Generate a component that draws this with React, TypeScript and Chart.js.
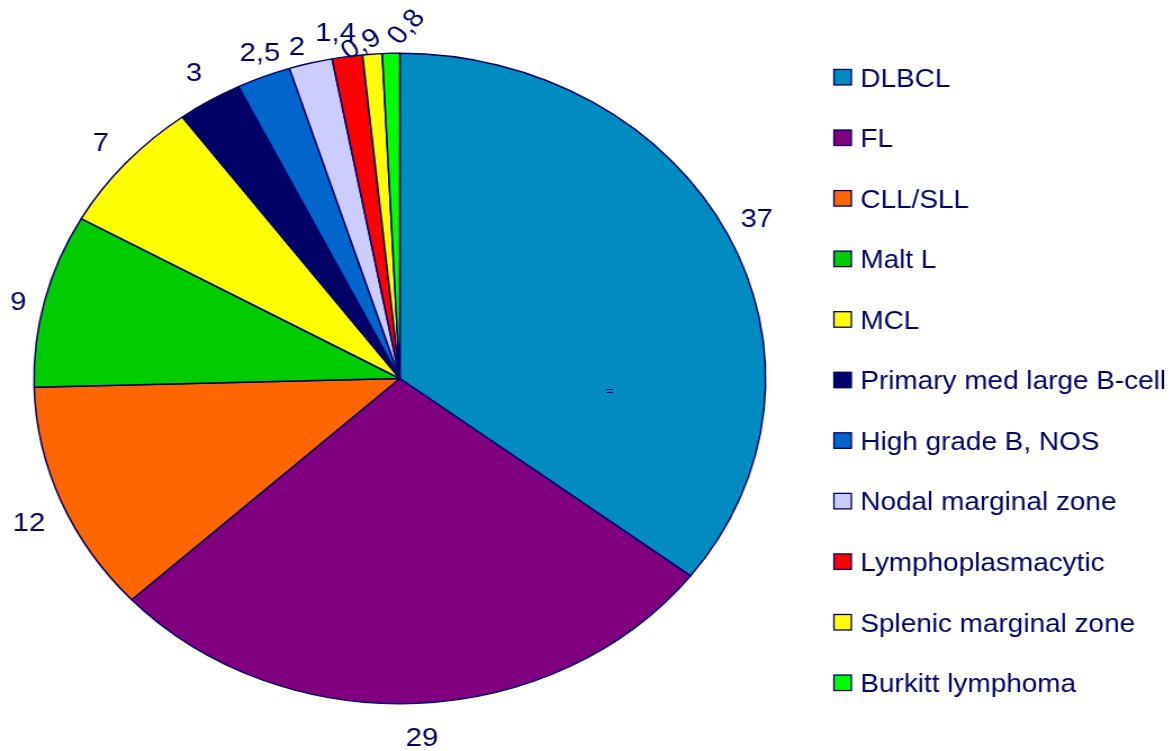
import React, { useEffect, useRef } from 'react';
import { Chart, registerables } from 'chart.js';

Chart.register(...registerables);

const categories = [
  'DLBCL',
  'FL',
  'CLL/SLL',
  'Malt L',
  'MCL',
  'Primary med large B-cell',
  'High grade B, NOS',
  'Nodal marginal zone',
  'Lymphoplasmacytic',
  'Splenic marginal zone',
  'Burkitt lymphoma',
];
const values = [37, 29, 12, 9, 7, 3, 2.5, 2, 1.4, 0.9, 0.8];
const sliceColors = [
  '#008CC0',
  '#800080',
  '#FF6600',
  '#00CC00',
  '#FFFF00',
  '#000066',
  '#0066CC',
  '#CCCCFF',
  '#FF0000',
  '#FFFF00',
  '#00FF00',
];
const valueLabels = values.map((v) => String(v).replace('.', ','));

// canvas is drawn narrower and stretched horizontally (the reference is a stretched pie)
const W = 1043;
const H = 751;
const DISPLAY_W = 1173;
const TEXT = '#000066';
const FONT = '"Liberation Sans", Arial, Helvetica, sans-serif';

// data label placement tweaks: [dx, dy, rotation in degrees]
const labelTweaks: number[][] = [
  [-3, -2, 0],
  [3, 8, 0],
  [1, 8, 0],
  [0, 6, 0],
  [-2, -4, 0],
  [0, -6, 0],
  [8, 3, 0],
  [-6, 8, 0],
  [-6.5, 2, 0],
  [-9, 14.5, -30],
  [13, -2.5, -50],
];

const dataLabelPlugin = {
  id: 'dataLabelPlugin',
  afterDatasetsDraw(chart: any) {
    const ctx = chart.ctx;
    const meta = chart.getDatasetMeta(0);
    ctx.save();
    ctx.font = `26px ${FONT}`;
    ctx.fillStyle = TEXT;
    ctx.textAlign = 'center';
    ctx.textBaseline = 'alphabetic';
    meta.data.forEach((arc: any, i: number) => {
      const p = arc.getProps(['x', 'y', 'startAngle', 'endAngle', 'outerRadius'], true);
      const mid = (p.startAngle + p.endAngle) / 2;
      const c = Math.cos(mid);
      const s = Math.sin(mid);
      const text = valueLabels[i];
      const w = ctx.measureText(text).width;
      const hh = 9.5;
      const R = p.outerRadius + 15 + Math.abs(c) * (w / 2) + Math.abs(s) * hh;
      const t = labelTweaks[i] || [0, 0, 0];
      const lx = p.x + c * R + t[0];
      const ly = p.y + s * R + t[1];
      ctx.save();
      ctx.translate(lx, ly);
      ctx.rotate((t[2] * Math.PI) / 180);
      ctx.fillText(text, 0, 9.3);
      ctx.restore();
    });
    // small stray mark inside the largest slice
    const big = meta.data[0].getProps(['x', 'y'], true);
    ctx.font = `12px ${FONT}`;
    ctx.fillText('=', big.x + 186.5, big.y + 16);
    ctx.restore();
  },
};

const legendPlugin = {
  id: 'customLegend',
  afterDraw(chart: any) {
    const ctx = chart.ctx;
    const labels: string[] = chart.data.labels;
    const colors: string[] = chart.data.datasets[0].backgroundColor;
    const boxX = 741.5;
    const textX = 765;
    const firstY = 77.2;
    const step = 60.56;
    const box = 15.5;
    const squeeze = 0.955;
    ctx.save();
    ctx.font = `26px ${FONT}`;
    ctx.textAlign = 'left';
    ctx.textBaseline = 'alphabetic';
    labels.forEach((lab, i) => {
      const yc = firstY + i * step;
      ctx.fillStyle = colors[i];
      ctx.fillRect(boxX, yc - box / 2, box, box);
      ctx.strokeStyle = TEXT;
      ctx.lineWidth = 1.3;
      ctx.strokeRect(boxX, yc - box / 2, box, box);
      ctx.fillStyle = TEXT;
      ctx.save();
      ctx.translate(textX, yc + 9.3);
      ctx.scale(squeeze, 1);
      ctx.fillText(lab, 0, 0);
      ctx.restore();
    });
    ctx.restore();
  },
};

export default function App() {
  const ref = useRef<HTMLCanvasElement | null>(null);

  useEffect(() => {
    document.body.style.margin = '0';
    const canvas = ref.current;
    if (!canvas) return;
    const chart = new Chart(canvas, {
      type: 'pie',
      data: {
        labels: categories,
        datasets: [
          {
            data: values,
            backgroundColor: sliceColors,
            borderColor: '#000066',
            borderWidth: 1.5,
          },
        ],
      },
      options: {
        responsive: false,
        animation: false,
        events: [],
        devicePixelRatio: 1,
        layout: {
          padding: { left: 29.5, right: W - 681.5, top: 52, bottom: 46 },
        },
        plugins: {
          legend: { display: false },
          tooltip: { enabled: false },
        },
      },
      plugins: [dataLabelPlugin, legendPlugin],
    });
    return () => chart.destroy();
  }, []);

  return (
    <canvas
      ref={ref}
      width={W}
      height={H}
      style={{ width: `${DISPLAY_W}px`, height: `${H}px`, display: 'block' }}
    />
  );
}
